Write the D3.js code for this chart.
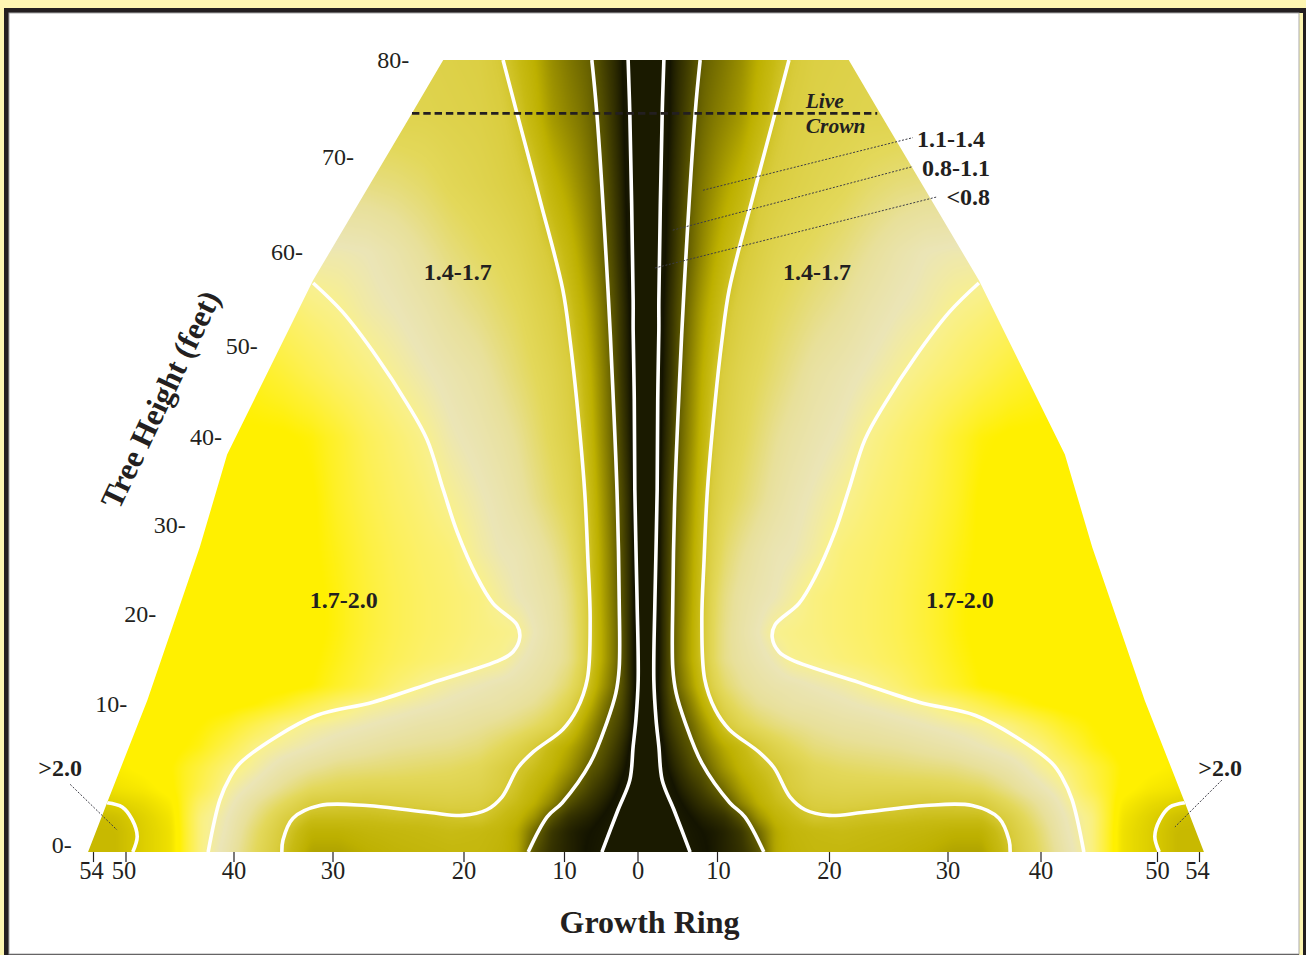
<!DOCTYPE html>
<html>
<head>
<meta charset="utf-8">
<script src="https://cdn.jsdelivr.net/npm/d3@7"></script>
<style>
  html, body { margin: 0; padding: 0; background: #fdf6b2; overflow: hidden; }
  text { font-family: "Liberation Serif", serif; fill: #231f20; }
</style>
</head>
<body>
<div id="tree-chart"></div>
<script>
// Axis ticks
const ring_ticks = [-54, -50, -40, -30, -20, -10, 0, 10, 20, 30, 40, 50, 54];
const height_ticks = [0, 10, 20, 30, 40, 50, 60, 70, 80];
// Where each height label sits, in percent of the half width of the trunk
const height_label_radius = [102.8, 92.9, 87.7, 82.4, 75.9, 69.5, 61.4, 52.3, 42.4];

// Specific gravity: one row per height, one value per radius
// (radius in percent of half the butt width, the tree is mirrored around the pith)
const field_radius = [0, 1.5, 3, 4.5, 6, 8, 10, 12, 14, 17, 20, 23, 26, 30, 35, 40, 45, 50, 55, 60, 65, 70, 75, 80, 85, 90, 95, 100];
const field_height = [-0.5, 1, 2, 3, 4, 5.5, 7, 8.5, 10, 12, 15, 18, 22, 27, 33, 40, 47, 54, 60, 67, 74, 80];
const field_values = [
  [.6, .6, .6, .62, .7, .8, .86, .9, .93, .98, 1.07, 1.28, 1.32, 1.34, 1.34, 1.33, 1.32, 1.3, 1.27, 1.27, 1.39, 1.5, 1.62, 1.72, 1.97, 2.03, 2.1, 2.1],
  [.6, .6, .62, .68, .76, .84, .88, .9, .93, 1.0, 1.13, 1.28, 1.33, 1.35, 1.36, 1.35, 1.34, 1.33, 1.31, 1.31, 1.41, 1.52, 1.64, 1.72, 1.97, 2.03, 2.1, 2.1],
  [.6, .6, .65, .74, .82, .88, .92, .95, .98, 1.08, 1.23, 1.32, 1.36, 1.4, 1.39, 1.38, 1.38, 1.37, 1.37, 1.37, 1.44, 1.55, 1.65, 1.72, 1.96, 2.02, 2.08, 2.1],
  [.6, .62, .7, .8, .87, .93, .98, 1.02, 1.07, 1.2, 1.3, 1.36, 1.39, 1.43, 1.44, 1.43, 1.42, 1.41, 1.41, 1.42, 1.5, 1.58, 1.67, 1.75, 1.94, 1.99, 2.02, 2.05],
  [.62, .66, .76, .85, .92, .98, 1.03, 1.09, 1.15, 1.26, 1.33, 1.38, 1.42, 1.46, 1.47, 1.47, 1.47, 1.47, 1.48, 1.5, 1.56, 1.63, 1.69, 1.8, 1.91, 1.95, 1.97, 2],
  [.62, .7, .84, .92, .98, 1.05, 1.09, 1.17, 1.24, 1.32, 1.37, 1.4, 1.44, 1.49, 1.51, 1.52, 1.53, 1.54, 1.55, 1.58, 1.62, 1.68, 1.73, 1.82, 1.9, 1.92, 1.94, 1.95],
  [.65, .75, .88, .97, 1.03, 1.09, 1.16, 1.23, 1.29, 1.35, 1.41, 1.46, 1.5, 1.54, 1.56, 1.57, 1.58, 1.6, 1.62, 1.65, 1.68, 1.71, 1.8, 1.88, 1.92, 1.93, 1.93, 1.93],
  [.68, .79, .93, 1.02, 1.07, 1.13, 1.22, 1.31, 1.4, 1.47, 1.51, 1.54, 1.56, 1.58, 1.6, 1.61, 1.63, 1.65, 1.67, 1.69, 1.72, 1.79, 1.86, 1.9, 1.92, 1.92, 1.92, 1.92],
  [.68, .8, .95, 1.06, 1.1, 1.19, 1.3, 1.39, 1.47, 1.53, 1.57, 1.59, 1.61, 1.62, 1.64, 1.66, 1.68, 1.7, 1.74, 1.8, 1.86, 1.9, 1.92, 1.92, 1.92, 1.92, 1.92, 1.92],
  [.68, .82, .97, 1.08, 1.15, 1.25, 1.36, 1.46, 1.52, 1.57, 1.6, 1.62, 1.63, 1.65, 1.67, 1.7, 1.74, 1.8, 1.85, 1.9, 1.92, 1.92, 1.92, 1.92, 1.92, 1.92, 1.92, 1.92],
  [.68, .8, .97, 1.09, 1.18, 1.29, 1.4, 1.5, 1.56, 1.6, 1.63, 1.66, 1.7, 1.71, 1.73, 1.75, 1.78, 1.82, 1.87, 1.91, 1.92, 1.92, 1.92, 1.92, 1.92, 1.92, 1.92, 1.92],
  [.68, .8, .97, 1.09, 1.18, 1.29, 1.4, 1.5, 1.56, 1.61, 1.65, 1.7, 1.71, 1.72, 1.74, 1.76, 1.79, 1.83, 1.88, 1.92, 1.92, 1.92, 1.92, 1.92, 1.92, 1.92, 1.92, 1.92],
  [.68, .79, .97, 1.08, 1.17, 1.28, 1.39, 1.49, 1.55, 1.6, 1.63, 1.65, 1.68, 1.72, 1.74, 1.76, 1.79, 1.83, 1.88, 1.92, 1.92, 1.92, 1.92, 1.92, 1.92, 1.92, 1.92, 1.92],
  [.68, .78, .96, 1.07, 1.16, 1.27, 1.38, 1.46, 1.52, 1.57, 1.61, 1.64, 1.65, 1.68, 1.73, 1.75, 1.78, 1.82, 1.87, 1.91, 1.92, 1.92, 1.92, 1.92, 1.92, 1.92, 1.92, 1.92],
  [.68, .76, .95, 1.06, 1.14, 1.25, 1.36, 1.43, 1.48, 1.52, 1.56, 1.6, 1.63, 1.66, 1.695, 1.73, 1.76, 1.8, 1.85, 1.91, 1.92, 1.92, 1.92, 1.92, 1.92, 1.92, 1.92, 1.92],
  [.66, .75, .92, 1.03, 1.12, 1.22, 1.33, 1.41, 1.45, 1.49, 1.53, 1.57, 1.6, 1.63, 1.66, 1.705, 1.74, 1.78, 1.84, 1.89, 1.91, 1.91, 1.91, 1.91, 1.91, 1.91, 1.91, 1.91],
  [.65, .73, .9, 1.0, 1.1, 1.2, 1.3, 1.38, 1.43, 1.47, 1.5, 1.53, 1.56, 1.6, 1.63, 1.66, 1.69, 1.72, 1.75, 1.79, 1.83, 1.86, 1.88, 1.88, 1.88, 1.88, 1.88, 1.88],
  [.65, .72, .88, .99, 1.08, 1.17, 1.26, 1.33, 1.39, 1.44, 1.47, 1.5, 1.52, 1.55, 1.58, 1.62, 1.65, 1.67, 1.7, 1.72, 1.75, 1.78, 1.78, 1.78, 1.78, 1.78, 1.78, 1.78],
  [.64, .71, .85, .96, 1.05, 1.13, 1.21, 1.28, 1.34, 1.405, 1.44, 1.47, 1.49, 1.51, 1.54, 1.58, 1.62, 1.65, 1.66, 1.66, 1.66, 1.66, 1.66, 1.66, 1.66, 1.66, 1.66, 1.66],
  [.63, .7, .82, .94, 1.02, 1.11, 1.17, 1.22, 1.27, 1.33, 1.405, 1.43, 1.45, 1.47, 1.49, 1.52, 1.54, 1.55, 1.55, 1.55, 1.55, 1.55, 1.55, 1.55, 1.55, 1.55, 1.55, 1.55],
  [.6, .67, .8, .91, .99, 1.07, 1.13, 1.17, 1.2, 1.25, 1.33, 1.395, 1.43, 1.45, 1.46, 1.47, 1.47, 1.47, 1.47, 1.47, 1.47, 1.47, 1.47, 1.47, 1.47, 1.47, 1.47, 1.47],
  [.6, .65, .78, .9, .97, 1.04, 1.11, 1.14, 1.17, 1.22, 1.3, 1.36, 1.41, 1.44, 1.45, 1.46, 1.46, 1.46, 1.46, 1.46, 1.46, 1.46, 1.46, 1.46, 1.46, 1.46, 1.46, 1.46]
];

// Colour ramp of the map
const ramp_values = [0.6, 0.8, 0.88, 1.0, 1.1, 1.2, 1.3, 1.36, 1.42, 1.5, 1.58, 1.65, 1.7, 1.74, 1.8, 1.86, 1.9, 1.93, 2.0, 2.1];
const ramp_colors = ['#1a1a00', '#1a1a00', '#141400', '#3a3700', '#5f5a00', '#8f8500', '#bdb000', '#c8bb14', '#d9cc3c', '#e3d85a', '#e8e09a', '#ebe5b6', '#f8f08e', '#fbf070', '#fdf04c', '#fef024', '#fff000', '#fff000', '#e6d800', '#c8b900'];

// Trunk outline, [radius, height], left and right are mirrored
const outline_points = [[36.3, 80], [41.9, 74.5], [59.6, 57], [75, 38], [79.9, 27.5], [89.3, 10.4], [96.3, 3.2], [99.9, -0.5]];

// Contour lines, [radius, height]
const contour_08 = [[3.2, 80], [2.9, 74.5], [2.3, 54.9], [2.3, 51.7], [2.1, 44.1], [2, 34], [1.6, 21.6], [1.4, 12.7], [1.8, 8.9], [2.3, 7], [2.9, 4.6], [5, 2.5], [7.9, -0.5]];
const contour_11 = [[9.7, 80], [8.8, 74.5], [6.8, 55.9], [6.1, 47.4], [5.2, 34], [4.8, 21.6], [4.8, 14], [5.4, 11.2], [7, 8.7], [10, 5.8], [15, 3], [17.7, 2], [21.1, -0.5]];
const contour_14 = [[25.6, 80], [23.1, 74.5], [19, 65.5], [14.9, 56], [13.6, 50.6], [12.4, 44], [11, 34], [10.4, 26.1], [10, 19.3], [10.5, 12.8], [12.4, 9.6], [14.9, 8.2], [20.2, 6.6], [22.9, 5.5], [25.8, 3.4], [28.5, 2.5], [32.8, 2.1], [38.7, 2.3], [50, 2.8], [58.4, 2.8], [63.2, 1.9], [65, 0.35], [65.2, -0.5]];
const contour_17 = [[59.6, 56.7], [54.3, 53.6], [48.2, 48.8], [42.8, 43.7], [39.2, 39.7], [36.3, 34], [33.8, 29.2], [30.3, 24.2], [27.4, 21.2], [23.1, 18.8], [22.6, 17.4], [23.8, 15.8], [26.1, 14.9], [38.1, 12.4], [48.9, 10.2], [58.9, 9.2], [66.1, 7.7], [72.7, 5.8], [74.5, 4.8], [76.3, 3.2], [78.4, -0.5]];
const contour_20 = [[96.5, 3], [93.8, 2.7], [92, 1.8], [91.1, 0.6], [91.9, -0.5]];
const contours = [contour_08, contour_11, contour_14, contour_17, contour_20];

// Labels, [text, radius, height] (signed radius, height of the baseline)
const band_labels = [
  ['1.4-1.7', -33.7, 57], ['1.4-1.7', 30.6, 57],
  ['1.7-2.0', -54.1, 20.7], ['1.7-2.0', 56.2, 20.7],
  ['>2.0', -104.9, 4.9], ['>2.0', 102.8, 4.9],
  ['1.1-1.4', 54.6, 71], ['0.8-1.1', 55.5, 68], ['<0.8', 57.7, 64.9]
];
// Leader lines, [radius, height, radius, height]
const leaders = [
  [-103.1, 4.3, -94.7, 1.06], [103.1, 4.6, 94.7, 1.28],
  [10.2, 66.5, 47.8, 72], [4.8, 62.3, 47.8, 69], [1.6, 58.3, 52.1, 65.8]
];
const crown_height = 74.5;
const crown_extent = [-41.9, 41.4];

const width_tree = 1306;
const height_tree = 955;

// Scales. The printed ring and height ticks are not evenly spaced
const radius_scale = d3.scaleLinear().domain([-100, 100]).range([87.5, 1204.5]);
const height_scale = d3.scaleLinear()
  .domain(height_ticks)
  .range([845, 704, 614, 525, 437, 346, 252, 157, 60]);
const ring_scale = d3.scaleLinear()
  .domain(ring_ticks)
  .range([93, 125.5, 233.5, 332.5, 463.5, 564, 637.5, 717, 829, 947.5, 1040.5, 1157, 1199]);
const color_scale = d3.scaleLinear().domain(ramp_values).range(ramp_colors).clamp(true);

let svg_tree = d3.select('#tree-chart')
  .append('svg')
    .attr('width', width_tree)
    .attr('height', height_tree)
    .style('display', 'block');

// Frame
svg_tree.append('rect').attr('x', 0).attr('y', 0).attr('width', width_tree).attr('height', height_tree).attr('fill', '#fdf6b2');
svg_tree.append('rect').attr('x', 4).attr('y', 8).attr('width', 1302).attr('height', 947).attr('fill', '#231f20');
svg_tree.append('rect').attr('x', 1299).attr('y', 13).attr('width', 4).attr('height', 942).attr('fill', '#fdf6b2');
svg_tree.append('rect').attr('x', 9).attr('y', 13).attr('width', 1290).attr('height', 941).attr('fill', '#ffffff').attr('stroke', '#aaaaaa').attr('stroke-width', 1);

// Paint the field on a canvas, one pixel per cell
function find_cell(list, value) {
  const i = Math.min(Math.max(d3.bisectRight(list, value) - 1, 0), list.length - 2);
  const t = Math.min(Math.max((value - list[i]) / (list[i + 1] - list[i]), 0), 1);
  return [i, t];
}

function paint_field() {
  const x0 = 60, y0 = 40, w = 1172, h = 830;
  const x_cells = d3.range(w).map(i => find_cell(field_radius, Math.abs(radius_scale.invert(x0 + i))));
  const y_cells = d3.range(h).map(j => find_cell(field_height, height_scale.invert(y0 + j)));
  const data = new Float32Array(w * h);
  for (let j = 0; j < h; j++) {
    const [r, u] = y_cells[j];
    for (let i = 0; i < w; i++) {
      const [c, t] = x_cells[i];
      const a = field_values[r][c] * (1 - t) + field_values[r][c + 1] * t;
      const b = field_values[r + 1][c] * (1 - t) + field_values[r + 1][c + 1] * t;
      data[j * w + i] = a * (1 - u) + b * u;
    }
  }
  d3.blur2({data: data, width: w, height: h}, 2);

  const lookup = d3.range(1024).map(i => d3.rgb(color_scale(0.6 + i / 1023 * 1.5)));
  const canvas = document.createElement('canvas');
  canvas.width = w;
  canvas.height = h;
  const ctx = canvas.getContext('2d');
  const image = ctx.createImageData(w, h);
  for (let k = 0; k < data.length; k++) {
    const c = lookup[Math.max(0, Math.min(1023, Math.round((data[k] - 0.6) / 1.5 * 1023)))];
    image.data[k * 4] = c.r;
    image.data[k * 4 + 1] = c.g;
    image.data[k * 4 + 2] = c.b;
    image.data[k * 4 + 3] = 255;
  }
  ctx.putImageData(image, 0, 0);
  return {href: canvas.toDataURL(), x: x0, y: y0, w: w, h: h};
}

// Clip everything to the trunk
const outline_left = outline_points.map(d => [-d[0], d[1]]);
const outline_right = outline_points.slice().reverse();
let line_plain = d3.line()
  .x(d => radius_scale(d[0]))
  .y(d => height_scale(d[1]));
let defs = svg_tree.append('defs');
defs.append('clipPath').attr('id', 'trunk-clip')
  .append('path')
    .attr('d', line_plain(outline_right.concat(outline_left)) + 'Z');
defs.append('filter').attr('id', 'soft-line')
  .append('feGaussianBlur').attr('stdDeviation', 0.7);

let trunk = svg_tree.append('g').attr('clip-path', 'url(#trunk-clip)');
let field = paint_field();
trunk.append('image')
  .attr('x', field.x).attr('y', field.y)
  .attr('width', field.w).attr('height', field.h)
  .attr('href', field.href);

// Contours, both sides
let line_contour = d3.line()
  .x(d => radius_scale(d[0]))
  .y(d => height_scale(d[1]))
  .curve(d3.curveCatmullRom.alpha(0.5));
[-1, 1].forEach(side => {
  trunk.selectAll('path.contour-' + (side < 0 ? 'left' : 'right'))
    .data(contours)
    .join('path')
      .attr('class', 'contour-' + (side < 0 ? 'left' : 'right'))
      .attr('d', d => line_contour(d.map(p => [p[0] * side, p[1]])))
      .attr('fill', 'none')
      .attr('stroke', '#ffffff')
      .attr('stroke-width', 3.6)
      .attr('stroke-linejoin', 'round')
      .attr('filter', 'url(#soft-line)');
});

// Live crown line
svg_tree.append('line')
  .attr('x1', radius_scale(crown_extent[0]))
  .attr('x2', radius_scale(crown_extent[1]))
  .attr('y1', height_scale(crown_height))
  .attr('y2', height_scale(crown_height))
  .attr('stroke', '#231f20')
  .attr('stroke-width', 2.6)
  .attr('stroke-dasharray', '7.4 3.9');

// Leader lines
svg_tree.selectAll('line.leader')
  .data(leaders)
  .join('line')
    .attr('class', 'leader')
    .attr('x1', d => radius_scale(d[0]))
    .attr('y1', d => height_scale(d[1]))
    .attr('x2', d => radius_scale(d[2]))
    .attr('y2', d => height_scale(d[3]))
    .attr('stroke', '#3c3c46')
    .attr('stroke-width', 1)
    .attr('stroke-dasharray', '2 1.6');

// X axis
let axis_x = svg_tree.append('g')
  .attr('transform', 'translate(0,' + height_scale(-0.5) + ')')
  .call(d3.axisBottom(ring_scale)
    .tickValues(ring_ticks)
    .tickFormat(d => Math.abs(d))
    .tickSize(10)
    .tickSizeOuter(0)
    .tickPadding(0));
axis_x.select('.domain').remove();
axis_x.selectAll('.tick line').attr('stroke', '#231f20').attr('stroke-width', 1.2);
axis_x.selectAll('.tick text')
  .attr('font-family', '"Liberation Serif", serif')
  .attr('font-size', 24.5)
  .attr('fill', '#231f20')
  .attr('dx', d => (Math.abs(d) === 54 ? -2 : 0) + (Math.abs(d) === 10 && d > 0 ? 1 : 0) - (d === -50 ? 2 : 0));

// Height labels follow the slope of the trunk
svg_tree.selectAll('text.height-label')
  .data(height_ticks)
  .join('text')
    .attr('class', 'height-label')
    .attr('x', (d, i) => radius_scale(-height_label_radius[i]))
    .attr('y', d => height_scale(d))
    .attr('dy', '0.32em')
    .attr('text-anchor', 'end')
    .attr('font-size', 24)
    .text(d => d + '-');

// Band labels
svg_tree.selectAll('text.band-label')
  .data(band_labels)
  .join('text')
    .attr('class', 'band-label')
    .attr('x', d => radius_scale(d[1]))
    .attr('y', d => height_scale(d[2]))
    .attr('text-anchor', 'middle')
    .attr('font-size', 24)
    .attr('font-weight', 'bold')
    .text(d => d[0]);

svg_tree.append('text')
  .attr('x', radius_scale(28.6))
  .attr('y', height_scale(75.1))
  .attr('font-size', 21.5)
  .attr('font-weight', 'bold')
  .attr('font-style', 'italic')
  .text('Live');
svg_tree.append('text')
  .attr('x', radius_scale(28.6))
  .attr('y', height_scale(72.5))
  .attr('font-size', 21.5)
  .attr('font-weight', 'bold')
  .attr('font-style', 'italic')
  .text('Crown');

// Axis titles
svg_tree.append('text')
  .attr('x', 649.5)
  .attr('y', 933)
  .attr('text-anchor', 'middle')
  .attr('font-size', 32)
  .attr('font-weight', 'bold')
  .text('Growth Ring');
svg_tree.append('text')
  .attr('transform', 'translate(170,404) rotate(-64.5)')
  .attr('text-anchor', 'middle')
  .attr('font-size', 31.5)
  .attr('font-weight', 'bold')
  .text('Tree Height (feet)');
</script>
</body>
</html>
